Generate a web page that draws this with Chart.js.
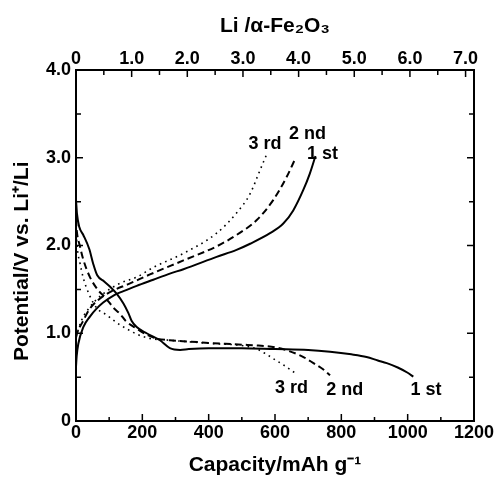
<!DOCTYPE html>
<html>
<head>
<meta charset="utf-8">
<script src="https://cdn.jsdelivr.net/npm/chart.js@4"></script>
<style>
	body { margin: 0; background: white; }
	#wrap { width: 497px; height: 478px; }
</style>
</head>
<body>
<div id="wrap"><canvas id="chart" width="497" height="478"></canvas></div>
<script>
// capacity in mAh/g, potential in V vs Li+/Li
const dis1Cap = [0, 3, 10, 22, 40, 52, 64, 85, 103, 123, 143, 158, 168, 183, 213, 253, 283, 314, 340, 400, 500, 600, 700, 766, 830, 876, 910, 937, 970, 1000, 1017];
const dis1Pot = [2.52, 2.36, 2.21, 2.12, 1.96, 1.79, 1.66, 1.59, 1.53, 1.45, 1.34, 1.23, 1.14, 1.07, 1.00, 0.92, 0.83, 0.81, 0.82, 0.83, 0.83, 0.82, 0.81, 0.79, 0.76, 0.73, 0.69, 0.66, 0.61, 0.55, 0.505];
const dis2Cap = [0, 2, 12, 22, 42, 67, 90, 113, 133, 150, 180, 210, 243, 283, 344, 400, 450, 500, 550, 600, 640, 680, 716, 745, 766];
const dis2Pot = [2.30, 2.18, 1.99, 1.84, 1.64, 1.49, 1.40, 1.29, 1.22, 1.14, 1.06, 0.99, 0.94, 0.92, 0.905, 0.89, 0.88, 0.87, 0.86, 0.84, 0.80, 0.74, 0.66, 0.59, 0.52];
const dis3Cap = [0, 3, 12, 22, 40, 62, 92, 123, 153, 183, 223, 283, 350, 420, 500, 545, 570, 595, 625, 665];
const dis3Pot = [2.20, 2.00, 1.80, 1.63, 1.44, 1.29, 1.21, 1.12, 1.05, 0.99, 0.94, 0.92, 0.90, 0.88, 0.86, 0.82, 0.77, 0.71, 0.64, 0.535];

const chg1Cap = [0, 2, 7, 22, 42, 62, 82, 113, 143, 183, 233, 283, 324, 424, 484, 525, 585, 625, 655, 685, 705, 722];
const chg1Pot = [0.62, 0.74, 0.88, 1.07, 1.19, 1.28, 1.35, 1.43, 1.48, 1.54, 1.61, 1.68, 1.73, 1.87, 1.95, 2.02, 2.14, 2.25, 2.40, 2.63, 2.82, 3.02];
const chg2Cap = [0, 4, 20, 40, 67, 108, 158, 223, 324, 424, 484, 545, 595, 635, 660];
const chg2Pot = [0.95, 1.01, 1.13, 1.27, 1.38, 1.48, 1.56, 1.67, 1.83, 1.99, 2.12, 2.29, 2.52, 2.78, 2.98];
const chg3Cap = [0, 17, 42, 82, 133, 183, 233, 324, 424, 484, 525, 555, 575];
const chg3Pot = [0.96, 1.15, 1.30, 1.45, 1.57, 1.64, 1.75, 1.91, 2.14, 2.37, 2.59, 2.86, 3.04];

// cycle labels placed in data units
const labelText = ["3 rd", "2 nd", "1 st", "3 rd", "2 nd", "1 st"];
const labelCap = [570, 698, 743, 650, 810, 1055];
const labelPot = [3.16, 3.265, 3.04, 0.376, 0.353, 0.353];

// 1 Li per Fe2O3 ~ 167.8 mAh/g
const mAhPerLi = 167.8;

Chart.defaults.font.family = "'Liberation Sans', Arial, sans-serif";
Chart.defaults.color = "#000";

function makeSet (name, caps, pots, dash, width) {
	return {
		label: name,
		data: caps.map((c, i) => ({ x: c, y: pots[i] })),
		showLine: true,
		borderColor: "#000",
		borderWidth: width,
		borderDash: dash,
		pointRadius: 0,
		cubicInterpolationMode: "monotone",
		fill: false
	};
}

const solid = [];
const dashed = [7, 4];
const dotted = [1.6, 4.2];

const datasets = [
	makeSet("1st discharge", dis1Cap, dis1Pot, solid, 2),
	makeSet("2nd discharge", dis2Cap, dis2Pot, dashed, 2),
	makeSet("3rd discharge", dis3Cap, dis3Pot, dotted, 1.6),
	makeSet("1st charge", chg1Cap, chg1Pot, solid, 2),
	makeSet("2nd charge", chg2Cap, chg2Pot, dashed, 2),
	makeSet("3rd charge", chg3Cap, chg3Pot, dotted, 1.6)
];

function fmt (v) {
	return v === 0 ? "0" : v.toFixed(1);
}

// inward tick marks on all four sides
const tickMarks = {
	id: "tickMarks",
	afterDraw (chart) {
		const { ctx, chartArea: a, scales } = chart;
		ctx.save();
		ctx.strokeStyle = "#000";
		ctx.lineWidth = 1.5;
		ctx.beginPath();
		for (let v = 100; v < 1200; v += 100) {
			const px = scales.x.getPixelForValue(v);
			const len = v % 200 === 0 ? 7 : 4;
			ctx.moveTo(px, a.bottom);
			ctx.lineTo(px, a.bottom - len);
		}
		for (let v = 0.5; v <= 7; v += 0.5) {
			const px = scales.x2.getPixelForValue(v);
			const len = v % 1 === 0 ? 7 : 5;
			ctx.moveTo(px, a.top);
			ctx.lineTo(px, a.top + len);
		}
		for (let v = 0.5; v < 4; v += 0.5) {
			const py = scales.y.getPixelForValue(v);
			const len = v % 1 === 0 ? 7 : 5;
			ctx.moveTo(a.left, py);
			ctx.lineTo(a.left + len, py);
			ctx.moveTo(a.right, py);
			ctx.lineTo(a.right - len, py);
		}
		ctx.stroke();
		ctx.restore();
	}
};

const cycleLabels = {
	id: "cycleLabels",
	afterDraw (chart) {
		const { ctx, scales } = chart;
		ctx.save();
		ctx.fillStyle = "#000";
		ctx.font = "bold 18px 'Liberation Sans', Arial, sans-serif";
		ctx.textAlign = "center";
		ctx.textBaseline = "middle";
		labelText.forEach((t, i) => {
			ctx.fillText(t, scales.x.getPixelForValue(labelCap[i]), scales.y.getPixelForValue(labelPot[i]));
		});
		ctx.restore();
	}
};

const tickFont = { size: 18, weight: "bold" };
const titleFont = { size: 21, weight: "bold" };
const border = { display: true, color: "#000", width: 2 };
const noGrid = { display: false, drawTicks: false };

new Chart(document.getElementById("chart"), {
	type: "scatter",
	data: { datasets },
	options: {
		responsive: false,
		animation: false,
		devicePixelRatio: 1,
		layout: { padding: 0 },
		plugins: {
			legend: { display: false },
			tooltip: { enabled: false }
		},
		scales: {
			x: {
				type: "linear",
				position: "bottom",
				min: 0,
				max: 1200,
				grid: noGrid,
				border: border,
				ticks: { stepSize: 200, font: tickFont, padding: 1, maxRotation: 0, callback: (v) => String(v) },
				title: { display: true, text: "Capacity/mAh g⁻¹", font: titleFont, padding: { top: 0, bottom: 0 } },
				afterFit: (s) => { s.height = 57; }
			},
			x2: {
				type: "linear",
				axis: "x",
				position: "top",
				min: 0,
				max: 1200 / mAhPerLi,
				grid: noGrid,
				border: border,
				ticks: { stepSize: 1, includeBounds: false, font: tickFont, padding: 0, maxRotation: 0, callback: fmt },
				title: { display: true, text: "Li /α-Fe₂O₃", font: titleFont, padding: { top: 14, bottom: 0 } },
				afterFit: (s) => { s.height = 70; }
			},
			y: {
				type: "linear",
				position: "left",
				min: 0,
				max: 4,
				grid: noGrid,
				border: border,
				ticks: { stepSize: 1, font: tickFont, padding: 5, callback: fmt },
				// trailing en spaces push the rotated title a little below centre, as in the source
				title: { display: true, text: "Potential/V vs. Li⁺/Li\u2002\u2002\u2002", font: titleFont, padding: { top: 10, bottom: 0 } },
				afterFit: (s) => { s.width = 76; }
			},
			y2: {
				type: "linear",
				axis: "y",
				position: "right",
				min: 0,
				max: 4,
				grid: noGrid,
				border: border,
				ticks: { display: false },
				afterFit: (s) => { s.width = 23; }
			}
		}
	},
	plugins: [tickMarks, cycleLabels]
});
</script>
</body>
</html>
